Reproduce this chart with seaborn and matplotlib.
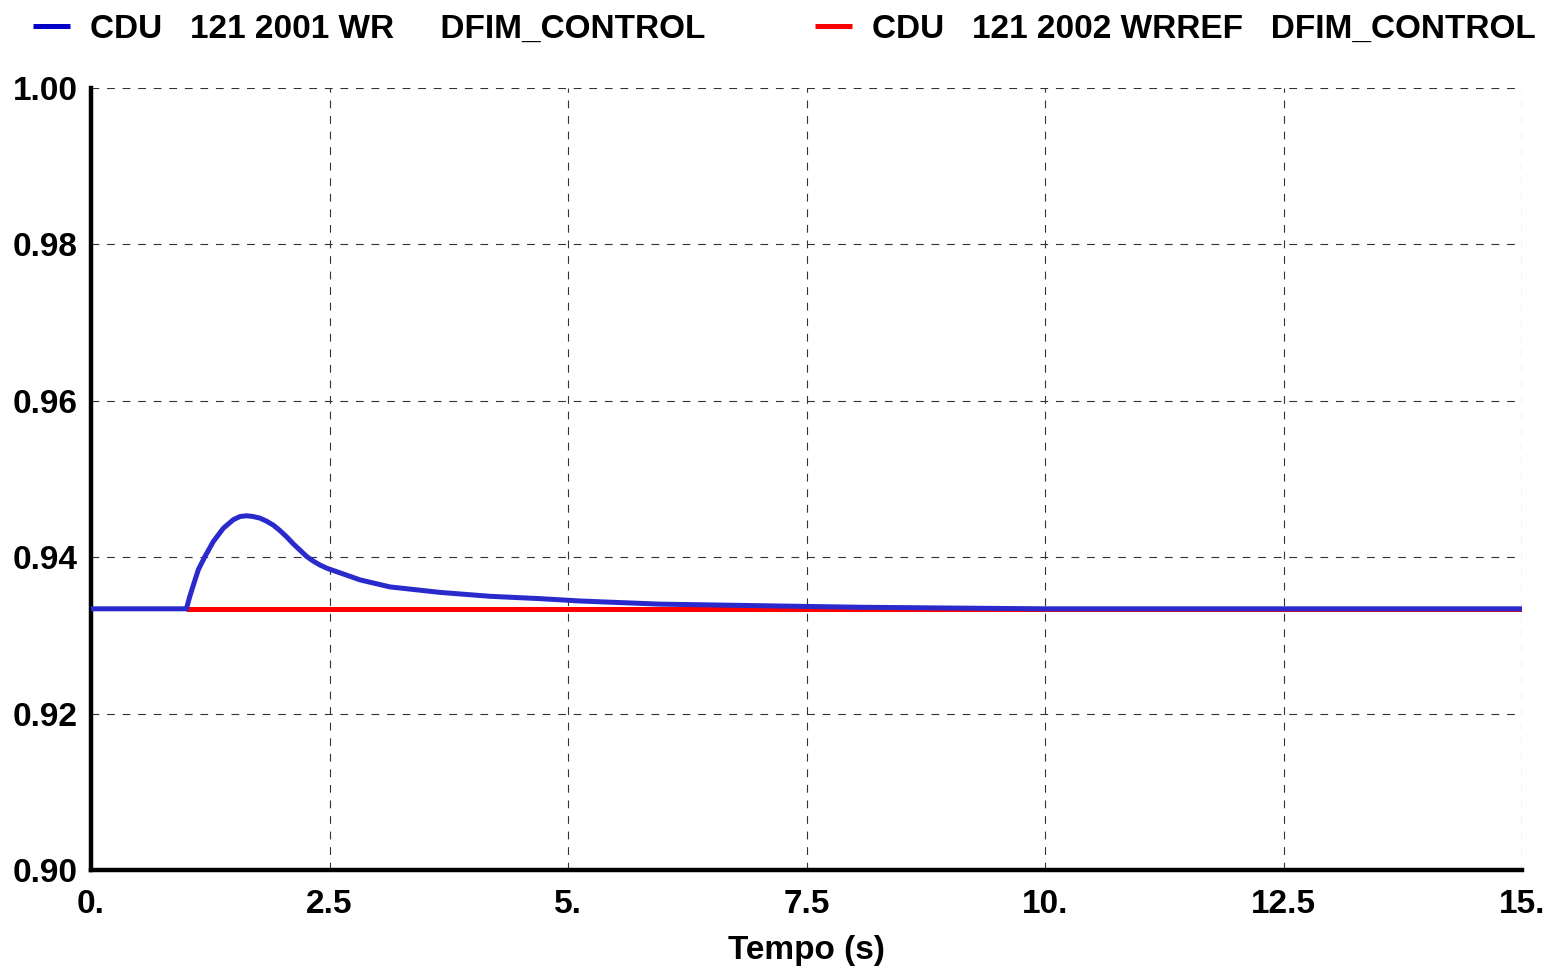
import matplotlib
matplotlib.use("Agg")
import matplotlib.pyplot as plt
import seaborn as sns
import numpy as np
import pandas as pd

# ---- data ----
wr_time = [0.0, 1.0, 1.036, 1.072, 1.125, 1.195, 1.282, 1.387, 1.492, 1.562, 1.632,
           1.70, 1.771, 1.841, 1.911, 1.981, 2.051, 2.121, 2.191, 2.260, 2.330,
           2.400, 2.471, 2.540, 2.610, 2.820, 3.134, 3.658, 4.182, 4.706, 5.126, 5.96,
           7.0, 8.06, 9.0, 10.0, 15.0]
wr_value = [0.9334, 0.9334, 0.9350, 0.9364, 0.9384, 0.9401, 0.9420, 0.9437, 0.9448,
            0.9452, 0.9453, 0.9452, 0.9450, 0.9446, 0.9441, 0.9434, 0.9426, 0.9417,
            0.9409, 0.9401, 0.9395, 0.9390, 0.9386, 0.9383, 0.9380, 0.9371, 0.9362, 0.9355,
            0.9350, 0.9347, 0.9344, 0.9340, 0.9338, 0.9336, 0.9335, 0.9334, 0.9334]
wrref_time = [1.0, 15.0]
wrref_value = [0.9334, 0.9334]

wr_label = "CDU   121 2001 WR     DFIM_CONTROL"
wrref_label = "CDU   121 2002 WRREF   DFIM_CONTROL"

x_ticks = [0.0, 2.5, 5.0, 7.5, 10.0, 12.5, 15.0]
x_tick_labels = ["0.", "2.5", "5.", "7.5", "10.", "12.5", "15."]
y_ticks = [0.90, 0.92, 0.94, 0.96, 0.98, 1.00]
y_tick_labels = ["0.90", "0.92", "0.94", "0.96", "0.98", "1.00"]
x_label = "Tempo (s)"

# ---- plotting ----
sns.set_theme(style="white")
plt.rcParams["font.family"] = ["Liberation Sans", "DejaVu Sans"]
plt.rcParams["font.weight"] = "bold"
plt.rcParams["text.color"] = "black"

fig = plt.figure(figsize=(15.46, 9.68), dpi=100)
ax = fig.add_axes([91 / 1546, 1 - 870 / 968, (1522 - 91) / 1546, (870 - 88) / 968])

df_wr = pd.DataFrame({"t": wr_time, "v": wr_value})
df_ref = pd.DataFrame({"t": wrref_time, "v": wrref_value})

sns.lineplot(data=df_ref, x="t", y="v", ax=ax, color="#FF0000", lw=3.6,
             estimator=None, sort=False, label=wrref_label, zorder=3)
sns.lineplot(data=df_wr, x="t", y="v", ax=ax, color="#2a2acc", lw=3.6,
             estimator=None, sort=False, label=wr_label, zorder=4)
for ln in ax.get_lines():
    ln.set_solid_joinstyle("round")
    ln.set_solid_capstyle("butt")

ax.set_xlim(0, 15)
ax.set_ylim(0.90, 1.00)
ax.set_xticks(x_ticks)
ax.set_xticklabels(x_tick_labels)
ax.set_yticks(y_ticks)
ax.set_yticklabels(y_tick_labels)

ax.grid(True, color="#333333", linestyle=(0, (7, 7)), linewidth=0.8)
for sp in ["top", "right"]:
    ax.spines[sp].set_visible(False)
for sp in ["left", "bottom"]:
    ax.spines[sp].set_visible(True)
    ax.spines[sp].set_color("black")
    ax.spines[sp].set_linewidth(3.2)

ax.tick_params(axis="both", which="major", direction="inout", length=7, width=3,
               color="black", labelsize=24, labelcolor="black")
ax.tick_params(axis="x", pad=10)
ax.tick_params(axis="y", pad=6)
for lab in ax.get_xticklabels() + ax.get_yticklabels():
    lab.set_fontweight("bold")

ax.set_xlabel(x_label, fontsize=24, fontweight="bold", color="black", labelpad=11)
ax.set_ylabel("")

# legend on top
handles, labels = ax.get_legend_handles_labels()
order = [labels.index(wr_label), labels.index(wrref_label)]
ax.legend_.remove()
leg = fig.legend([handles[i] for i in order], [labels[i] for i in order],
                 loc="upper left", bbox_to_anchor=(0.002, 1.017), ncol=2,
                 frameon=False, handlelength=1.1, handletextpad=0.6,
                 columnspacing=3.3, labelcolor="black",
                 prop={"family": "Liberation Sans", "weight": "bold", "size": 24})
leg_colors = ["#0000C8", "#FF0000"]
for h, c in zip(leg.get_lines(), leg_colors):
    h.set_linewidth(3.6)
    h.set_color(c)

fig.savefig("out.png", dpi=100, facecolor="white")
